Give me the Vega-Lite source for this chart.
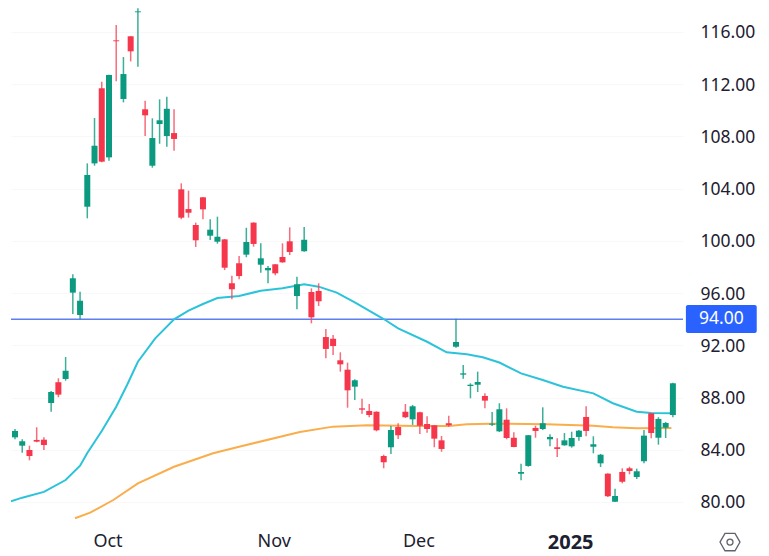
{"$schema":"https://vega.github.io/schema/vega-lite/v6.json","width":672,"height":520,"autosize":{"type":"none"},"padding":{"left":11,"top":0,"right":86,"bottom":36},"background":"#ffffff","config":{"view":{"stroke":null},"font":"Noto Sans"},"datasets":{"candles":[{"i":0,"open":84.95,"high":85.59,"low":84.8,"close":85.44},{"i":1,"open":84.31,"high":84.8,"low":83.77,"close":84.65},{"i":2,"open":83.98,"high":84.31,"low":83.19,"close":83.52},{"i":3,"open":84.75,"high":85.72,"low":84.57,"close":84.62},{"i":4,"open":84.77,"high":84.95,"low":83.98,"close":84.36},{"i":5,"open":87.58,"high":88.5,"low":86.91,"close":88.42},{"i":6,"open":89.17,"high":89.47,"low":88.02,"close":88.22},{"i":7,"open":89.42,"high":91.1,"low":89.29,"close":90.05},{"i":8,"open":96.03,"high":97.43,"low":94.4,"close":97.13},{"i":9,"open":94.32,"high":96.1,"low":93.99,"close":95.41},{"i":10,"open":102.61,"high":105.93,"low":101.72,"close":105.04},{"i":11,"open":105.93,"high":109.4,"low":105.75,"close":107.28},{"i":12,"open":111.68,"high":112.18,"low":106.01,"close":106.06},{"i":13,"open":106.39,"high":112.72,"low":106.13,"close":112.7},{"i":14,"open":115.35,"high":116.52,"low":112.21,"close":115.28},{"i":15,"open":110.86,"high":114.07,"low":110.6,"close":112.77},{"i":16,"open":115.66,"high":115.68,"low":113.74,"close":114.51},{"i":17,"open":117.5,"high":117.8,"low":113.33,"close":117.57},{"i":18,"open":110.07,"high":110.73,"low":108.02,"close":109.61},{"i":19,"open":105.75,"high":109.38,"low":105.6,"close":107.87},{"i":20,"open":108.94,"high":110.83,"low":107.43,"close":109.23},{"i":21,"open":108.02,"high":111.03,"low":107.21,"close":110.11},{"i":22,"open":108.25,"high":110.07,"low":106.9,"close":107.8},{"i":23,"open":103.94,"high":104.4,"low":101.65,"close":101.77},{"i":24,"open":102.43,"high":103.84,"low":101.77,"close":102.15},{"i":25,"open":101.21,"high":101.39,"low":99.53,"close":100.04},{"i":26,"open":103.33,"high":103.35,"low":101.65,"close":102.41},{"i":27,"open":100.39,"high":101.65,"low":100.06,"close":100.85},{"i":28,"open":99.93,"high":101.85,"low":99.78,"close":100.31},{"i":29,"open":100.11,"high":100.14,"low":97.76,"close":97.94},{"i":30,"open":96.75,"high":97.33,"low":95.52,"close":96.29},{"i":31,"open":98.28,"high":98.84,"low":97.05,"close":97.3},{"i":32,"open":98.94,"high":101,"low":98.74,"close":99.91},{"i":33,"open":101.39,"high":101.42,"low":99.55,"close":99.76},{"i":34,"open":98.17,"high":99.81,"low":97.56,"close":98.66},{"i":35,"open":97.74,"high":98.07,"low":96.75,"close":97.92},{"i":36,"open":98.2,"high":98.22,"low":97.36,"close":97.51},{"i":37,"open":98.76,"high":99.81,"low":98.32,"close":98.35},{"i":38,"open":99.96,"high":101.03,"low":98.91,"close":99.14},{"i":39,"open":95.77,"high":97.25,"low":94.76,"close":96.67},{"i":40,"open":99.2,"high":101.06,"low":99.17,"close":100.08},{"i":41,"open":96.08,"high":96.36,"low":93.68,"close":94.14},{"i":42,"open":96.16,"high":96.75,"low":95.01,"close":95.37},{"i":43,"open":92.63,"high":93.25,"low":91,"close":91.72},{"i":44,"open":92.5,"high":92.79,"low":91.26,"close":91.94},{"i":45,"open":90.85,"high":91.46,"low":89.98,"close":90.54},{"i":46,"open":90.13,"high":90.67,"low":87.22,"close":88.55},{"i":47,"open":88.83,"high":89.4,"low":87.81,"close":89.32},{"i":48,"open":87.17,"high":87.91,"low":86.76,"close":87.07},{"i":49,"open":86.97,"high":87.5,"low":86.49,"close":86.66},{"i":50,"open":86.91,"high":86.94,"low":85.41,"close":85.49},{"i":51,"open":83.52,"high":83.62,"low":82.58,"close":83.04},{"i":52,"open":84.19,"high":85.82,"low":83.68,"close":85.51},{"i":53,"open":85.74,"high":86.03,"low":84.82,"close":85.11},{"i":54,"open":86.91,"high":87.5,"low":86.43,"close":86.49},{"i":55,"open":86.33,"high":87.43,"low":85.9,"close":87.33},{"i":56,"open":86.87,"high":86.91,"low":85.21,"close":85.84},{"i":57,"open":85.97,"high":86.56,"low":85.31,"close":85.59},{"i":58,"open":85.87,"high":85.9,"low":84.19,"close":84.85},{"i":59,"open":84.72,"high":85.05,"low":83.85,"close":84.06},{"i":60,"open":86.03,"high":86.61,"low":85.77,"close":85.87},{"i":61,"open":91.89,"high":94.04,"low":91.81,"close":92.25},{"i":62,"open":89.75,"high":90.49,"low":89.44,"close":89.85},{"i":63,"open":88.88,"high":89.09,"low":87.94,"close":88.98},{"i":64,"open":88.98,"high":89.98,"low":88.42,"close":89.19},{"i":65,"open":88.12,"high":88.32,"low":87.17,"close":87.76},{"i":66,"open":85.92,"high":86.89,"low":85.82,"close":86},{"i":67,"open":85.41,"high":87.56,"low":85.36,"close":87.1},{"i":68,"open":86.3,"high":87.17,"low":84.8,"close":84.9},{"i":69,"open":84.92,"high":85.34,"low":84.19,"close":84.21},{"i":70,"open":82.17,"high":82.93,"low":81.66,"close":82.3},{"i":71,"open":82.76,"high":85.13,"low":82.7,"close":85.11},{"i":72,"open":85.67,"high":85.84,"low":84.92,"close":85.44},{"i":73,"open":85.59,"high":87.25,"low":85.51,"close":86.03},{"i":74,"open":84.8,"high":85.18,"low":84.26,"close":84.98},{"i":75,"open":84.19,"high":84.88,"low":83.45,"close":84.06},{"i":76,"open":84.34,"high":85.28,"low":84.31,"close":84.72},{"i":77,"open":84.26,"high":85.38,"low":84.16,"close":84.9},{"i":78,"open":84.98,"high":85.51,"low":84.69,"close":85.46},{"i":79,"open":86.51,"high":87.33,"low":85.03,"close":85.44},{"i":80,"open":84.23,"high":85.03,"low":83.73,"close":84.42},{"i":81,"open":82.96,"high":83.68,"low":82.68,"close":83.62},{"i":82,"open":82.17,"high":82.2,"low":80.38,"close":80.44},{"i":83,"open":80.02,"high":81.02,"low":80,"close":80.46},{"i":84,"open":82.3,"high":82.58,"low":81.43,"close":81.55},{"i":85,"open":82.58,"high":82.7,"low":82.12,"close":82.37},{"i":86,"open":81.91,"high":82.55,"low":81.76,"close":82.35},{"i":87,"open":83.12,"high":85.51,"low":82.96,"close":85.08},{"i":88,"open":86.79,"high":86.79,"low":84.88,"close":85.28},{"i":89,"open":84.92,"high":86.49,"low":84.39,"close":86.36},{"i":90,"open":85.69,"high":86.13,"low":84.9,"close":86.05},{"i":91,"open":86.66,"high":89.13,"low":86.49,"close":89.09}],"fast":[{"i":-0.55,"v":80.05},{"i":1,"v":80.33},{"i":4,"v":80.77},{"i":7,"v":81.68},{"i":9,"v":82.78},{"i":10,"v":83.75},{"i":12,"v":85.44},{"i":14,"v":87.3},{"i":15.5,"v":88.96},{"i":17,"v":90.74},{"i":19.4,"v":92.53},{"i":22,"v":93.99},{"i":24,"v":94.65},{"i":26,"v":95.16},{"i":28,"v":95.62},{"i":31,"v":95.77},{"i":34,"v":96.18},{"i":37,"v":96.36},{"i":40,"v":96.67},{"i":42,"v":96.49},{"i":44.5,"v":96.03},{"i":47,"v":95.29},{"i":51,"v":94.01},{"i":53,"v":93.3},{"i":57,"v":92.27},{"i":59.7,"v":91.46},{"i":62.5,"v":91.31},{"i":64.7,"v":91.08},{"i":67,"v":90.68},{"i":70,"v":89.85},{"i":73,"v":89.34},{"i":75.8,"v":88.83},{"i":80,"v":88.32},{"i":82.7,"v":87.56},{"i":86,"v":86.91},{"i":88,"v":86.81},{"i":91,"v":86.79}],"slow":[{"i":8.3,"v":78.75},{"i":10.4,"v":79.18},{"i":13.6,"v":80.15},{"i":17,"v":81.43},{"i":22,"v":82.7},{"i":27.4,"v":83.73},{"i":31,"v":84.23},{"i":39.4,"v":85.36},{"i":44,"v":85.77},{"i":48.7,"v":85.87},{"i":55.6,"v":85.82},{"i":60,"v":85.82},{"i":62.5,"v":85.95},{"i":65.7,"v":86},{"i":73.5,"v":85.95},{"i":80,"v":85.84},{"i":82.7,"v":85.72},{"i":86,"v":85.64},{"i":90.8,"v":85.67}],"level":[{"price":94}]},"layer":[{"data":{"name":"level"},"mark":{"type":"rule","color":"#5f7ff0","strokeWidth":1.5},"encoding":{"y":{"field":"price","type":"quantitative","scale":{"domain":[78.62,118.44],"nice":false,"zero":false,"padding":0},"title":null,"axis":{"orient":"right","values":[80,84,88,92,96,100,104,108,112,116],"format":".2f","domain":false,"ticks":false,"grid":true,"gridColor":"#f8f8fa","labelFont":"Noto Sans","labelFontSize":17.5,"labelColor":"#1c2030","labelPadding":17,"labelOffset":1,"labelOverlap":false}}}},{"data":{"name":"slow"},"mark":{"type":"line","color":"#f9ae4b","strokeWidth":2,"clip":true},"encoding":{"x":{"field":"i","type":"quantitative","scale":{"domain":[-0.553,92.4],"nice":false,"zero":false,"padding":0},"title":null,"axis":{"values":[13,36,56,77],"labelExpr":"datum.value==13?'Oct':datum.value==36?'Nov':datum.value==56?'Dec':'2025'","labelFontWeight":{"expr":"datum.value==77?'bold':'normal'"},"labelFontSize":{"expr":"datum.value==77?20:18"},"domain":false,"ticks":false,"grid":false,"labelFont":"Noto Sans","labelColor":"#1c2030","labelPadding":12,"labelOffset":-1.5,"labelOverlap":false}},"y":{"field":"v","type":"quantitative","title":null}}},{"data":{"name":"fast"},"mark":{"type":"line","color":"#2cc3da","strokeWidth":2,"clip":true},"encoding":{"x":{"field":"i","type":"quantitative","title":null},"y":{"field":"v","type":"quantitative","title":null}}},{"data":{"name":"candles"},"mark":{"type":"rule","strokeWidth":1.5,"opacity":0.8},"encoding":{"x":{"field":"i","type":"quantitative","title":null},"y":{"field":"low","type":"quantitative","title":null},"y2":{"field":"high"},"color":{"condition":{"test":"datum.close>datum.open","value":"#0b9a7f"},"value":"#f5475a"}}},{"data":{"name":"candles"},"mark":{"type":"bar","size":6},"encoding":{"x":{"field":"i","type":"quantitative","title":null},"y":{"field":"open","type":"quantitative","title":null},"y2":{"field":"close"},"color":{"condition":{"test":"datum.close>datum.open","value":"#0b9a7f"},"value":"#f5364b"}}},{"data":{"name":"level"},"mark":{"type":"rect","color":"#2962ff","cornerRadius":2,"clip":false},"encoding":{"x":{"datum":92.8,"type":"quantitative","title":null},"x2":{"datum":102.6},"y":{"datum":92.94,"type":"quantitative","title":null},"y2":{"datum":95.08}}},{"data":{"name":"level"},"mark":{"type":"text","color":"#ffffff","font":"Noto Sans","fontSize":17.5,"align":"center","baseline":"middle","clip":false},"encoding":{"x":{"datum":97.7,"type":"quantitative","title":null},"y":{"field":"price","type":"quantitative","title":null},"text":{"field":"price","type":"quantitative","format":".2f"}}},{"data":{"name":"level"},"mark":{"type":"point","shape":"M-1,0L-0.5,-0.87L0.5,-0.87L1,0L0.5,0.87L-0.5,0.87Z","size":400,"filled":false,"stroke":"#1c2030","strokeWidth":1.3,"clip":false},"encoding":{"x":{"datum":98.9,"type":"quantitative","title":null},"y":{"datum":76.93,"type":"quantitative","title":null}}},{"data":{"name":"level"},"mark":{"type":"point","shape":"circle","size":36,"filled":false,"stroke":"#1c2030","strokeWidth":1.3,"clip":false},"encoding":{"x":{"datum":98.9,"type":"quantitative","title":null},"y":{"datum":76.93,"type":"quantitative","title":null}}}]}
